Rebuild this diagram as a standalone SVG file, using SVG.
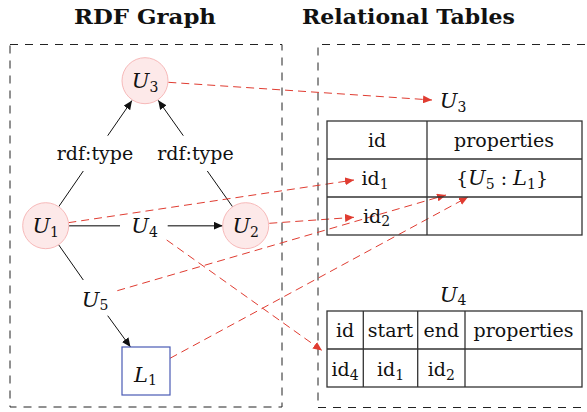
<svg xmlns="http://www.w3.org/2000/svg" width="587" height="412" viewBox="0 0 587 412">
<defs>
<style>
.t{font-family:"DejaVu Serif","Liberation Serif",serif;font-size:19px;fill:#111}
.m{font-family:"DejaVu Serif","Liberation Serif",serif;font-size:21px;font-style:italic;fill:#111}
.s{font-style:normal;font-size:14px}
.h{font-family:"DejaVu Serif","Liberation Serif",serif;font-size:20px;font-weight:bold;fill:#111}
.box{fill:none;stroke:#222;stroke-width:1;stroke-dasharray:8 7}
.node{fill:#fde9e9;stroke:#f7b9b9;stroke-width:1}
.edge{stroke:#111;stroke-width:1;fill:none}
.heavy{stroke:#555;stroke-width:1.6;fill:none}
.red{stroke:#e03c31;stroke-width:1;fill:none;stroke-dasharray:8 5}
.tbl{fill:none;stroke:#333;stroke-width:1.3}
</style>
<marker id="ab" markerUnits="userSpaceOnUse" markerWidth="10" markerHeight="8" refX="9" refY="4" orient="auto"><path d="M0,0 L9,4 L0,8 Z" fill="#111"/></marker>
<marker id="ar" markerUnits="userSpaceOnUse" markerWidth="10" markerHeight="8" refX="9" refY="4" orient="auto"><path d="M0,0 L9,4 L0,8 Z" fill="#e03c31"/></marker>
</defs>
<rect width="587" height="412" fill="#fff"/>
<text class="h" x="145" y="24" text-anchor="middle" textLength="142" lengthAdjust="spacingAndGlyphs">RDF Graph</text>
<text class="h" x="408.5" y="24" text-anchor="middle" textLength="213" lengthAdjust="spacingAndGlyphs">Relational Tables</text>
<g id="frames">
<rect class="box" x="10" y="44.5" width="272" height="362.5"/>
<path class="box" d="M585,44.5 H318 V407.5 H585"/>
</g>
<g id="connectors">
<line class="edge" x1="107.7" y1="135.7" x2="132" y2="100.5" marker-end="url(#ab)"/>
<line class="edge" x1="58.7" y1="206.7" x2="83.3" y2="171"/>
<line class="edge" x1="183.3" y1="135.7" x2="158.2" y2="100.3" marker-end="url(#ab)"/>
<line class="edge" x1="232.6" y1="206.8" x2="207.3" y2="171"/>
<line class="heavy" x1="68.7" y1="225.7" x2="120" y2="225.7"/>
<line class="heavy" x1="167.7" y1="225.7" x2="222.7" y2="225.7" marker-end="url(#ab)"/>
<line class="edge" x1="58.3" y1="244.3" x2="83.3" y2="280"/>
<line class="edge" x1="107.7" y1="315.7" x2="130.5" y2="347" marker-end="url(#ab)"/>
<line class="red" x1="168.3" y1="82.3" x2="432" y2="100" marker-end="url(#ar)"/>
<line class="red" x1="68.3" y1="222.7" x2="354" y2="180" marker-end="url(#ar)"/>
<line class="red" x1="269.3" y1="223.3" x2="354" y2="217.3" marker-end="url(#ar)"/>
<line class="red" x1="117.3" y1="290.7" x2="446" y2="195" marker-end="url(#ar)"/>
<line class="red" x1="170" y1="358.3" x2="468" y2="197" marker-end="url(#ar)"/>
<line class="red" x1="166.7" y1="240" x2="322" y2="350.5" marker-end="url(#ar)"/>
</g>
<g id="U3">
<circle class="node" cx="145" cy="80.7" r="23"/>
<text class="m" x="145" y="88.3" text-anchor="middle">U<tspan class="s" dy="3.5">3</tspan></text>
</g>
<g id="U1">
<circle class="node" cx="45.7" cy="225.7" r="23"/>
<text class="m" x="45.7" y="233.3" text-anchor="middle">U<tspan class="s" dy="3.5">1</tspan></text>
</g>
<g id="U2">
<circle class="node" cx="245.7" cy="225.7" r="23"/>
<text class="m" x="245.7" y="233.3" text-anchor="middle">U<tspan class="s" dy="3.5">2</tspan></text>
</g>
<g id="rdftype1"><text class="t" x="95" y="160" text-anchor="middle">rdf:type</text></g>
<g id="rdftype2"><text class="t" x="195.5" y="160" text-anchor="middle">rdf:type</text></g>
<g id="U4"><text class="m" x="144.5" y="233.3" text-anchor="middle">U<tspan class="s" dy="3.5">4</tspan></text></g>
<g id="U5"><text class="m" x="95" y="306.7" text-anchor="middle">U<tspan class="s" dy="3.5">5</tspan></text></g>
<g id="L1">
<rect x="122" y="347" width="48" height="48" fill="#fff" stroke="#4a5bb5" stroke-width="1.2"/>
<text class="m" x="145.5" y="381.7" text-anchor="middle">L<tspan class="s" dy="3.5">1</tspan></text>
</g>
<g id="tableU3">
<text class="m" x="453" y="108.3" text-anchor="middle">U<tspan class="s" dy="3.5">3</tspan></text>
<rect class="tbl" x="327" y="121" width="255" height="114"/>
<line class="tbl" x1="327" y1="159" x2="582" y2="159"/>
<line class="tbl" x1="327" y1="197" x2="582" y2="197"/>
<line class="tbl" x1="427" y1="121" x2="427" y2="235"/>
<text class="t" x="377" y="146.7" text-anchor="middle">id</text>
<text class="t" x="504" y="146.7" text-anchor="middle">properties</text>
<text class="t" x="375" y="185" text-anchor="middle">id<tspan class="s" dy="3.5">1</tspan></text>
<text class="t" x="502" y="185" text-anchor="middle">{<tspan font-style="italic" font-size="21">U</tspan><tspan class="s" dy="3.5">5</tspan><tspan dy="-3.5"> : </tspan><tspan font-style="italic" font-size="21">L</tspan><tspan class="s" dy="3.5">1</tspan><tspan dy="-3.5">}</tspan></text>
<text class="t" x="376.5" y="222.7" text-anchor="middle">id<tspan class="s" dy="3.5">2</tspan></text>
</g>
<g id="tableU4">
<text class="m" x="453" y="301.7" text-anchor="middle">U<tspan class="s" dy="3.5">4</tspan></text>
<rect class="tbl" x="327" y="311" width="255" height="76"/>
<line class="tbl" x1="327" y1="349" x2="582" y2="349"/>
<line class="tbl" x1="363.3" y1="311" x2="363.3" y2="387"/>
<line class="tbl" x1="417.7" y1="311" x2="417.7" y2="387"/>
<line class="tbl" x1="465" y1="311" x2="465" y2="387"/>
<text class="t" x="345" y="337.3" text-anchor="middle">id</text>
<text class="t" x="390.5" y="337.3" text-anchor="middle">start</text>
<text class="t" x="441.3" y="337.3" text-anchor="middle">end</text>
<text class="t" x="523.5" y="337.3" text-anchor="middle">properties</text>
<text class="t" x="345" y="376" text-anchor="middle">id<tspan class="s" dy="3.5">4</tspan></text>
<text class="t" x="390.5" y="376" text-anchor="middle">id<tspan class="s" dy="3.5">1</tspan></text>
<text class="t" x="441.3" y="376" text-anchor="middle">id<tspan class="s" dy="3.5">2</tspan></text>
</g>
</svg>
